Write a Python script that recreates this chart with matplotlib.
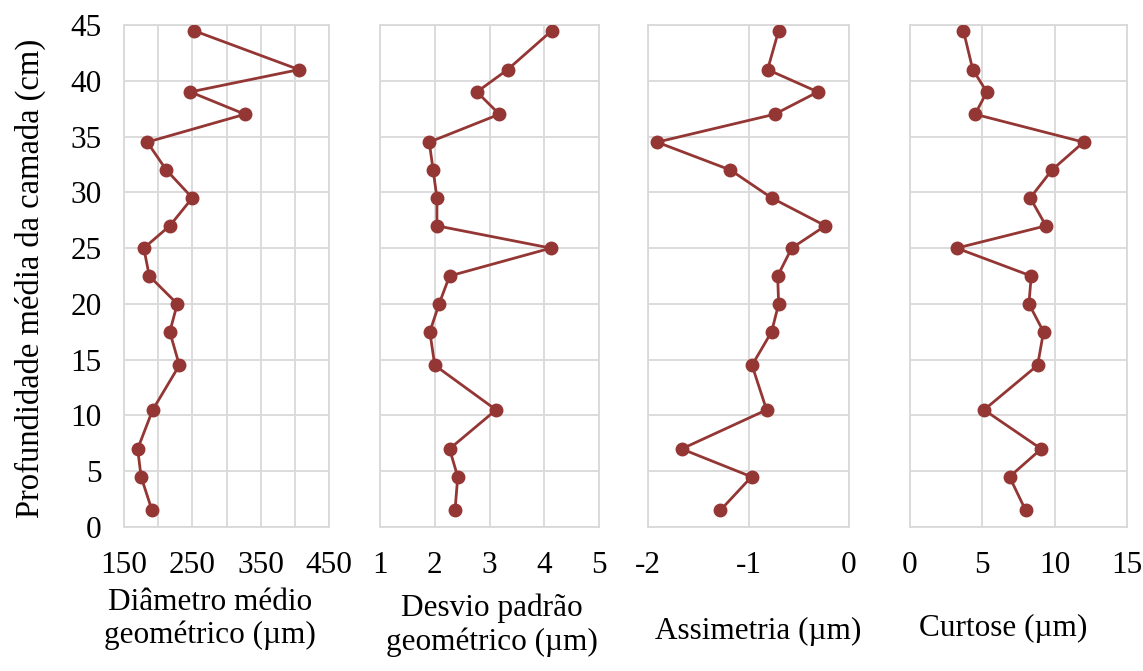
import matplotlib
matplotlib.use("Agg")
import matplotlib.pyplot as plt

plt.rcParams['font.family'] = ['Liberation Serif', 'DejaVu Serif']

# depth of each layer (cm)
depth = [44.5, 41, 39, 37, 34.5, 32, 29.5, 27, 25, 22.5, 20, 17.5, 14.5, 10.5, 7, 4.5, 1.5]

diametro = [252, 406, 247, 327, 184, 212, 250, 217, 179, 187, 228, 217, 231, 192, 170, 175, 191]
desvio = [4.14, 3.33, 2.77, 3.18, 1.90, 1.97, 2.04, 2.04, 4.12, 2.27, 2.08, 1.91, 2.00, 3.12, 2.27, 2.42, 2.37]
assimetria = [-0.70, -0.81, -0.31, -0.74, -1.91, -1.18, -0.77, -0.235, -0.57, -0.71, -0.70, -0.77, -0.965, -0.82, -1.665, -0.97, -1.28]
curtose = [3.69, 4.34, 5.31, 4.50, 12.0, 9.81, 8.31, 9.40, 3.23, 8.38, 8.22, 9.23, 8.82, 5.12, 9.07, 6.88, 7.99]

xlabels = ["Diâmetro médio\ngeométrico (µm)", "Desvio padrão\ngeométrico (µm)",
           "Assimetria (µm)", "Curtose (µm)"]

color = '#943634'
grid_color = '#d9d9d9'
W, H = 1143, 671
fs = 22.5

fig = plt.figure(figsize=(W / 100, H / 100), dpi=100)

# axes boxes in pixels: left, width
boxes = [(124, 205), (380, 219), (648, 201), (910, 217)]
bottom, top = 527, 25

series = [diametro, desvio, assimetria, curtose]
xlims = [(150, 450), (1, 5), (-2, 0), (0, 15)]
xgrid = [list(range(150, 451, 50)), [1, 2, 3, 4, 5], [-2, -1, 0], [0, 5, 10, 15]]
label_pos = [(210, 619), (492, 625), (758, 631), (1003, 628)]

for i, (vals, (l, w)) in enumerate(zip(series, boxes)):
    ax = fig.add_axes([l / W, 1 - bottom / H, w / W, (bottom - top) / H])
    ax.plot(vals, depth, color=color, lw=2.0, marker='o', markersize=9, zorder=3)
    ax.set_xlim(*xlims[i])
    ax.set_ylim(0, 45)
    ax.set_yticks(range(0, 46, 5))
    ax.set_xticks(xgrid[i])
    if i == 0:
        ax.set_xticklabels([str(v) if (v - 150) % 100 == 0 else '' for v in xgrid[i]])
    else:
        ax.set_xticklabels([str(v) for v in xgrid[i]])
    ax.grid(True, color=grid_color, lw=1.3)
    ax.set_axisbelow(True)
    for s in ax.spines.values():
        s.set_color(grid_color)
        s.set_linewidth(1.3)
    ax.tick_params(length=0, labelsize=fs, pad=17)
    ax.tick_params(axis='y', pad=16)
    if i > 0:
        ax.tick_params(axis='y', labelleft=False)
    fig.text(label_pos[i][0] / W, 1 - label_pos[i][1] / H, xlabels[i],
             ha='center', va='center', fontsize=fs, linespacing=1.2)

fig.text(30 / W, 1 - 278 / H, "Profundidade média da camada (cm)",
         rotation=90, ha='center', va='center', fontsize=23.5)

fig.savefig("out.png", dpi=100)
